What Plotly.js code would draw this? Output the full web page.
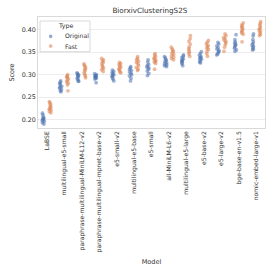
<!DOCTYPE html>
<html>
<head>
<meta charset="utf-8">
<script src="https://cdn.plot.ly/plotly-3.0.1.min.js"></script>
<style>html,body{margin:0;padding:0;background:#fff;}#chart{width:274px;height:274px;}</style>
</head>
<body>
<div id="chart"></div>
<script>
const models = ["LaBSE","multilingual-e5-small","paraphrase-multilingual-MiniLM-L12-v2","paraphrase-multilingual-mpnet-base-v2","e5-small-v2","multilingual-e5-base","e5-small","all-MiniLM-L6-v2","multilingual-e5-large","e5-base-v2","e5-large-v2","bge-base-en-v1.5","nomic-embed-large-v1"];

const originalScores = [
  [0.214,0.210,0.205,0.203,0.201,0.200,0.198,0.196,0.193,0.190],
  [0.286,0.283,0.280,0.277,0.274,0.272,0.270,0.267,0.264,0.262],
  [0.304,0.302,0.300,0.299,0.297,0.295,0.292,0.289,0.286,0.285],
  [0.302,0.300,0.298,0.297,0.296,0.295,0.293,0.292,0.290,0.282],
  [0.310,0.307,0.304,0.302,0.300,0.298,0.296,0.293,0.290,0.286],
  [0.318,0.315,0.312,0.309,0.306,0.303,0.300,0.297,0.292,0.286],
  [0.333,0.328,0.323,0.320,0.317,0.315,0.312,0.308,0.303,0.298],
  [0.340,0.337,0.334,0.331,0.329,0.326,0.324,0.322,0.320,0.318],
  [0.344,0.341,0.338,0.335,0.333,0.331,0.329,0.327,0.324,0.320],
  [0.351,0.347,0.343,0.340,0.338,0.336,0.334,0.331,0.328,0.326],
  [0.372,0.368,0.364,0.360,0.357,0.354,0.352,0.349,0.346,0.344],
  [0.389,0.378,0.373,0.370,0.367,0.365,0.362,0.359,0.355,0.352],
  [0.391,0.386,0.378,0.373,0.369,0.366,0.363,0.360,0.357,0.355]
];

const fastScores = [
  [0.240,0.237,0.234,0.230,0.228,0.225,0.223,0.221,0.218,0.215],
  [0.300,0.297,0.295,0.293,0.290,0.287,0.284,0.281,0.277,0.264],
  [0.324,0.321,0.318,0.315,0.312,0.309,0.305,0.301,0.297,0.293],
  [0.336,0.333,0.330,0.327,0.324,0.320,0.317,0.314,0.311,0.307],
  [0.327,0.325,0.322,0.319,0.317,0.314,0.312,0.309,0.306,0.304],
  [0.340,0.336,0.333,0.330,0.327,0.324,0.320,0.316,0.312,0.309],
  [0.347,0.344,0.340,0.337,0.335,0.332,0.330,0.328,0.325,0.312],
  [0.361,0.357,0.354,0.351,0.348,0.345,0.342,0.339,0.336,0.333],
  [0.387,0.380,0.374,0.368,0.362,0.358,0.354,0.350,0.346,0.341],
  [0.376,0.372,0.368,0.365,0.362,0.359,0.356,0.352,0.347,0.341],
  [0.391,0.387,0.383,0.380,0.377,0.374,0.371,0.367,0.361,0.352],
  [0.415,0.411,0.408,0.405,0.402,0.399,0.396,0.393,0.390,0.373],
  [0.418,0.414,0.410,0.406,0.403,0.400,0.397,0.394,0.390,0.387]
];

const typeNames = ["Original","Fast"];
const typeColors = ["#4C72B0","#DD8452"];
const legendTitle = "Type";
const yTicks = [0.20,0.25,0.30,0.35,0.40];

function flatten(scores){
  const xs=[], ys=[];
  scores.forEach((arr,i)=>arr.forEach(v=>{xs.push(models[i]); ys.push(v);}));
  return {xs, ys};
}

const font = "DejaVu Sans, sans-serif";
const traces = [];
[originalScores, fastScores].forEach((sc,k)=>{
  const f = flatten(sc);
  traces.push({
    type:'box', x:f.xs, y:f.ys, name:typeNames[k], showlegend:false,
    boxpoints:'all', jitter:0.35, pointpos:0,
    fillcolor:'rgba(0,0,0,0)', line:{color:'rgba(0,0,0,0)', width:0},
    whiskerwidth:0,
    marker:{color:typeColors[k], size:3.8, opacity:0.55}
  });
});

// compact legend (paper coords)
const L=38, W=227, T=17, H=111;
const px = v => (v-L)/W;
const py = v => 1-(v-T)/H;
const shapes = [
  {type:'rect', xref:'paper', yref:'paper', x0:px(40), x1:px(90), y0:py(51.7), y1:py(21),
   line:{color:'#d0d0d0', width:0.8}, fillcolor:'rgba(255,255,255,0.85)', layer:'above'}
];
const annotations = [
  {xref:'paper', yref:'paper', x:px(65.5), y:py(25.8), text:legendTitle, showarrow:false,
   xanchor:'center', yanchor:'middle', font:{size:6.3, family:font, color:'#333'}}
];
typeNames.forEach((n,k)=>{
  const cy = 36.4 + k*9.7;
  shapes.push({type:'circle', xref:'paper', yref:'paper', x0:px(48.9), x1:px(52.5), y0:py(cy+1.8), y1:py(cy-1.8),
    line:{width:0}, fillcolor:typeColors[k], opacity:0.6, layer:'above'});
  annotations.push({xref:'paper', yref:'paper', x:px(63), y:py(cy), text:n, showarrow:false,
    xanchor:'left', yanchor:'middle', font:{size:6.1, family:font, color:'#333'}});
});

const layout = {
  width:274, height:274,
  margin:{l:38, r:9, t:17, b:146},
  paper_bgcolor:'#fff', plot_bgcolor:'#fff',
  font:{family:font, size:6.5, color:'#333'},
  title:{text:'BiorxivClusteringS2S', x:0.547, xanchor:'center', y:0.962, yanchor:'middle', font:{family:font, size:7.2, color:'#333'}},
  boxmode:'group', boxgap:0.2, boxgroupgap:0,
  xaxis:{
    type:'category', categoryorder:'array', categoryarray:models,
    tickangle:-90, showgrid:false, zeroline:false,
    showline:true, mirror:true, linecolor:'#d0d0d0', linewidth:0.8,
    ticks:'', tickfont:{size:6.1, family:font, color:'#333'},
    title:{text:'Model', font:{size:6.5, family:font}, standoff:7}
  },
  yaxis:{
    range:[0.1811,0.4284], tickvals:yTicks, ticktext:yTicks.map(v=>v.toFixed(2)),
    showgrid:true, gridcolor:'#e8e8e8', gridwidth:0.8, zeroline:false,
    showline:true, mirror:true, linecolor:'#d0d0d0', linewidth:0.8,
    ticks:'', tickfont:{size:6.4, family:font, color:'#333'},
    title:{text:'Score', font:{size:6.5, family:font}, standoff:6}
  },
  shapes, annotations,
  showlegend:false
};

Plotly.newPlot('chart', traces, layout, {staticPlot:true, displayModeBar:false});
</script>
</body>
</html>
